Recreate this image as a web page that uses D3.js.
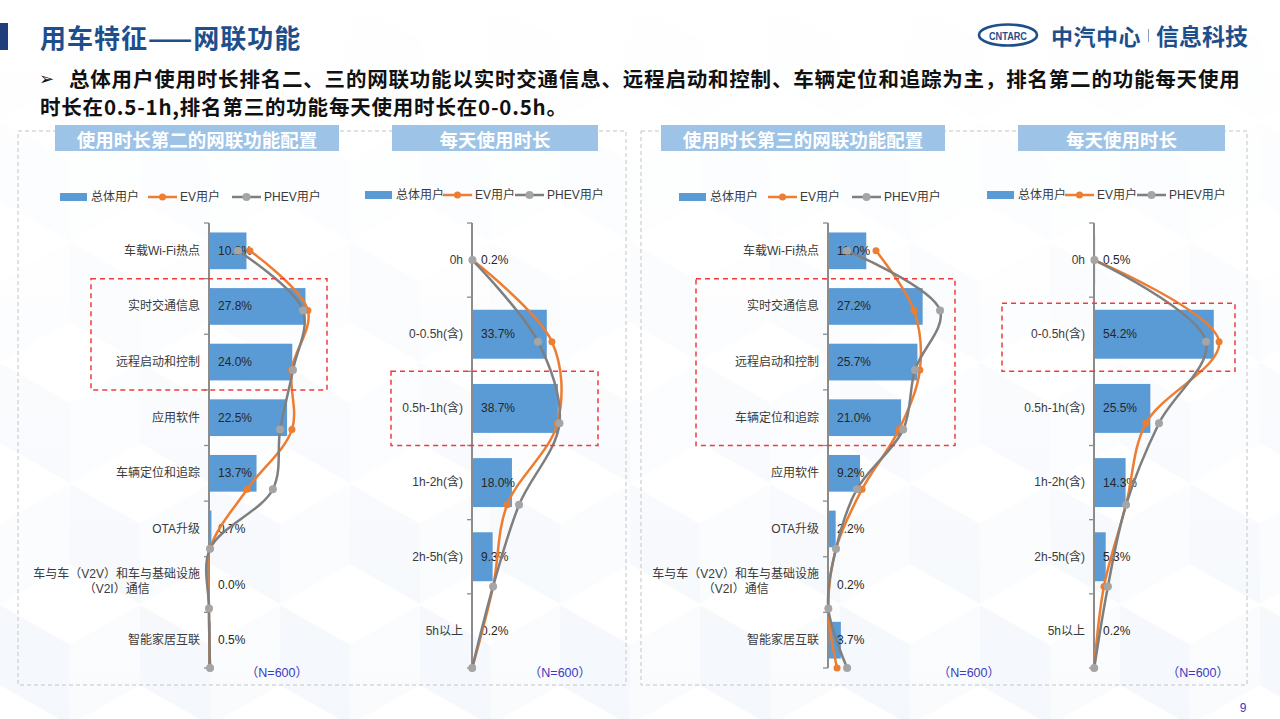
<!DOCTYPE html>
<html><head><meta charset="utf-8">
<script src="https://cdn.jsdelivr.net/npm/d3@7/dist/d3.min.js"></script>
<style>
html,body{margin:0;padding:0;background:#fff;}
svg{display:block;}
text{font-family:"Liberation Sans","Noto Sans CJK SC",sans-serif;}
</style></head><body>
<svg id="c" width="1280" height="719"></svg>
<script>
// ---------------- data ----------------
const pageTitle = "用车特征——网联功能";
const subtitleLine1 = "总体用户使用时长排名二、三的网联功能以实时交通信息、远程启动和控制、车辆定位和追踪为主，排名第二的功能每天使用";
const subtitleLine2 = "时长在0.5-1h,排名第三的功能每天使用时长在0-0.5h。";
const legendNames = ["总体用户", "EV用户", "PHEV用户"];
const sampleNote = "（N=600）";

const fn2Title = "使用时长第二的网联功能配置";
const fn2Categories = ["车载Wi-Fi热点", "实时交通信息", "远程启动和控制", "应用软件", "车辆定位和追踪", "OTA升级", "车与车（V2V）和车与基础设施（V2I）通信", "智能家居互联"];
const fn2Total = [10.8, 27.8, 24.0, 22.5, 13.7, 0.7, 0.0, 0.5];
const fn2EV    = [11.8, 28.5, 23.8, 23.9, 11.0, 0.3, 0.0, 0.3];
const fn2PHEV  = [8.4, 27.1, 24.2, 20.5, 18.4, 0.3, 0.0, 0.3];

const dur2Title = "每天使用时长";
const dur2Categories = ["0h", "0-0.5h(含)", "0.5h-1h(含)", "1h-2h(含)", "2h-5h(含)", "5h以上"];
const dur2Total = [0.2, 33.7, 38.7, 18.0, 9.3, 0.2];
const dur2EV    = [0.2, 36.0, 38.5, 15.8, 9.5, 0.1];
const dur2PHEV  = [0.2, 29.7, 39.4, 21.2, 9.5, 0.1];

const fn3Title = "使用时长第三的网联功能配置";
const fn3Categories = ["车载Wi-Fi热点", "实时交通信息", "远程启动和控制", "车辆定位和追踪", "应用软件", "OTA升级", "车与车（V2V）和车与基础设施（V2I）通信", "智能家居互联"];
const fn3Total = [11.0, 27.2, 25.7, 21.0, 9.2, 2.2, 0.2, 3.7];
const fn3EV    = [13.8, 24.7, 26.4, 20.4, 9.8, 2.3, 0.1, 2.6];
const fn3PHEV  = [5.5, 32.2, 25.0, 21.6, 8.3, 2.3, 0.1, 5.5];

const dur3Title = "每天使用时长";
const dur3Categories = ["0h", "0-0.5h(含)", "0.5h-1h(含)", "1h-2h(含)", "2h-5h(含)", "5h以上"];
const dur3Total = [0.5, 54.2, 25.5, 14.3, 5.3, 0.2];
const dur3EV    = [0.2, 56.6, 23.5, 14.5, 4.5, 0.1];
const dur3PHEV  = [0.2, 50.7, 29.4, 14.5, 6.3, 0.1];

// ---------------- style ----------------
const C_BAR = "#5b9bd5", C_EV = "#ed7d31", C_PHEV = "#7f7f7f", C_PHEV_M = "#a5a5a5";
const C_TXT = "#3a3a3a", C_NAVY = "#1f4e8c";

const svg = d3.select("#c");
const defs = svg.append("defs");

// faint isometric background
const pat = defs.append("pattern").attr("id", "cubes").attr("patternUnits", "userSpaceOnUse")
  .attr("width", 140).attr("height", 242);
function cube(g, ox, oy) {
  const s = 70, h = 40;
  g.append("path").attr("d", `M${ox},${oy} l${s},${h} l0,${2*h} l${-s},${-h} z`).attr("fill", "#f1f5fb");
  g.append("path").attr("d", `M${ox},${oy} l${-s},${h} l0,${2*h} l${s},${-h} z`).attr("fill", "#f8fafd");
}
pat.append("rect").attr("width", 140).attr("height", 242).attr("fill", "#ffffff");
[[70, 0], [0, 121], [140, 121], [70, 242], [0, -121], [140, -121]].forEach(p => cube(pat, p[0], p[1]));
const grad = defs.append("linearGradient").attr("id", "fade").attr("x1", 0).attr("x2", 0).attr("y1", 0).attr("y2", 1);
grad.append("stop").attr("offset", "0").attr("stop-color", "#fff").attr("stop-opacity", 0.97);
grad.append("stop").attr("offset", "0.5").attr("stop-color", "#fff").attr("stop-opacity", 0.65);
grad.append("stop").attr("offset", "1").attr("stop-color", "#fff").attr("stop-opacity", 0.25);
svg.append("rect").attr("width", 1280).attr("height", 719).attr("fill", "url(#cubes)");
svg.append("rect").attr("width", 1280).attr("height", 719).attr("fill", "url(#fade)");

// ---------------- header ----------------
svg.append("rect").attr("x", 0).attr("y", 23).attr("width", 8).attr("height", 27).attr("fill", "#1f3f7a");
svg.append("text").attr("x", 40).attr("y", 36).attr("dominant-baseline", "central")
  .style("font-family", "'Noto Sans CJK SC'").style("font-weight", 700).style("font-size", "26px")
  .style("letter-spacing", "1px").attr("fill", C_NAVY).text(pageTitle);

// logo
svg.append("ellipse").attr("cx", 1008).attr("cy", 35).attr("rx", 29).attr("ry", 10.5)
  .attr("fill", "#fff").attr("stroke", C_NAVY).attr("stroke-width", 2.6);
svg.append("text").attr("x", 1008).attr("y", 35.5).attr("text-anchor", "middle").attr("dominant-baseline", "central")
  .attr("textLength", 38).attr("lengthAdjust", "spacingAndGlyphs")
  .style("font-size", "10.5px").style("font-weight", 700).attr("fill", C_NAVY).text("CNTARC");
svg.append("text").attr("x", 1051).attr("y", 35).attr("dominant-baseline", "central")
  .style("font-family", "'Noto Sans CJK SC'").style("font-weight", 700).style("font-size", "22px")
  .style("letter-spacing", "0.5px").attr("fill", C_NAVY).text("中汽中心");
svg.append("line").attr("x1", 1148.5).attr("x2", 1148.5).attr("y1", 29).attr("y2", 42)
  .attr("stroke", "#8aa0c0").attr("stroke-width", 1);
svg.append("text").attr("x", 1156).attr("y", 35).attr("dominant-baseline", "central")
  .style("font-family", "'Noto Sans CJK SC'").style("font-weight", 700).style("font-size", "23px")
  .attr("fill", C_NAVY).text("信息科技");

// subtitle
svg.append("text").attr("x", 39).attr("y", 78).attr("dominant-baseline", "central")
  .style("font-family", "'DejaVu Sans'").style("font-size", "18px").style("font-weight", 700)
  .attr("fill", "#111").text("➢");
svg.append("text").attr("x", 69).attr("y", 78).attr("dominant-baseline", "central")
  .style("font-family", "'Noto Sans CJK SC'").style("font-weight", 700).style("font-size", "20.5px")
  .style("letter-spacing", "0.8px").attr("fill", "#111").text(subtitleLine1);
svg.append("text").attr("x", 40).attr("y", 106).attr("dominant-baseline", "central")
  .style("font-family", "'Noto Sans CJK SC'").style("font-weight", 700).style("font-size", "20.5px")
  .style("letter-spacing", "0.8px").attr("fill", "#111").text(subtitleLine2);

// panel dashed frames
[[18, 131, 608, 554], [641, 131, 606, 554]].forEach(r => {
  svg.append("rect").attr("x", r[0]).attr("y", r[1]).attr("width", r[2]).attr("height", r[3])
    .attr("fill", "none").attr("stroke", "#c4c4c4").attr("stroke-width", 1).attr("stroke-dasharray", "4,3");
});

// ---------------- panels ----------------
const AXIS_TOP = 223, AXIS_BOTTOM = 668;

function wrapLabel(textSel, maxW) {
  textSel.each(function () {
    const t = d3.select(this);
    const full = t.text();
    if (this.getComputedTextLength() <= maxW) return;
    const chars = Array.from(full);
    let line1 = "";
    for (let i = 0; i < chars.length; i++) {
      t.text(line1 + chars[i]);
      if (this.getComputedTextLength() > maxW) break;
      line1 += chars[i];
    }
    let cut = line1.length;
    const open = line1.lastIndexOf("（");
    if (open > line1.lastIndexOf("）")) cut = open;
    line1 = full.slice(0, cut);
    const line2 = full.slice(cut);
    t.text(line1);
    const w1 = this.getComputedTextLength();
    const x0 = +t.attr("x");
    const cx = x0 - w1 / 2;
    t.text(null).attr("text-anchor", "middle");
    t.append("tspan").attr("x", cx).attr("dy", "-0.55em").text(line1);
    t.append("tspan").attr("x", cx).attr("dy", "1.25em").text(line2);
  });
}

function drawPanel(p) {
  const g = svg.append("g");
  const y = d3.scaleBand().domain(p.categories).range([AXIS_TOP, AXIS_BOTTOM])
    .paddingInner(0.34).paddingOuter(0.17);
  const step = (AXIS_BOTTOM - AXIS_TOP) / p.categories.length;
  const x = d3.scaleLinear().domain([0, 100]).range([p.axisX, p.axisX + 100 * p.pxPer]);
  const yLine = d3.scalePoint().domain(p.categories).range([AXIS_TOP + step / 2, AXIS_BOTTOM]);

  // title box
  g.append("rect").attr("x", p.titleBox[0]).attr("y", 125).attr("width", p.titleBox[1]).attr("height", 26)
    .attr("fill", "#9dc3e6");
  g.append("text").attr("x", p.titleBox[0] + p.titleBox[1] / 2).attr("y", 138.5)
    .attr("text-anchor", "middle").attr("dominant-baseline", "central")
    .style("font-family", "'Noto Sans CJK SC'").style("font-weight", 700).style("font-size", "18.5px")
    .attr("fill", "#fff").text(p.title);

  // legend
  const lg = g.append("g").style("font-size", "12px").attr("fill", C_TXT);
  const L = p.legend, ly = p.legendY;
  lg.append("rect").attr("x", L[0]).attr("y", ly - 4).attr("width", 27).attr("height", 8).attr("fill", C_BAR);
  lg.append("text").attr("x", L[0] + 31).attr("y", ly).attr("dominant-baseline", "central").text(legendNames[0]);
  [[L[1], C_EV, C_EV, 3.5, legendNames[1]], [L[2], C_PHEV, C_PHEV_M, 4, legendNames[2]]].forEach(s => {
    lg.append("line").attr("x1", s[0]).attr("x2", s[0] + 29).attr("y1", ly).attr("y2", ly)
      .attr("stroke", s[1]).attr("stroke-width", 2.5);
    lg.append("circle").attr("cx", s[0] + 14.5).attr("cy", ly).attr("r", s[3]).attr("fill", s[2]);
    lg.append("text").attr("x", s[0] + 32).attr("y", ly).attr("dominant-baseline", "central").text(s[4]);
  });

  // bars
  g.selectAll("rect.bar").data(p.categories).join("rect").attr("class", "bar")
    .attr("x", p.axisX).attr("y", c => y(c))
    .attr("width", (c, i) => Math.max(0, x(p.total[i]) - p.axisX))
    .attr("height", y.bandwidth()).attr("fill", C_BAR);

  // axis
  g.append("line").attr("x1", p.axisX).attr("x2", p.axisX).attr("y1", AXIS_TOP).attr("y2", AXIS_BOTTOM)
    .attr("stroke", "#8c8c8c").attr("stroke-width", 2);
  d3.range(p.categories.length + 1).forEach(i => {
    g.append("line").attr("x1", p.axisX - 5).attr("x2", p.axisX)
      .attr("y1", AXIS_TOP + i * step).attr("y2", AXIS_TOP + i * step)
      .attr("stroke", "#8c8c8c").attr("stroke-width", 1.3);
  });
  const ax = g.append("g").attr("transform", `translate(${p.axisX},0)`)
    .call(d3.axisLeft(y).tickSize(0).tickPadding(9));
  ax.select(".domain").remove();
  ax.selectAll("text").style("font-size", "12px").attr("fill", C_TXT)
    .style("font-family", "'Liberation Sans','Noto Sans CJK SC',sans-serif");
  ax.selectAll("text").call(wrapLabel, 172);

  // value labels
  g.selectAll("text.val").data(p.categories).join("text").attr("class", "val")
    .attr("x", p.axisX + 9).attr("y", c => y(c) + y.bandwidth() / 2).attr("dominant-baseline", "central")
    .style("font-size", "12px").attr("fill", "#262626")
    .text((c, i) => d3.format(".1f")(p.total[i]) + "%");

  // lines
  const series = [
    { vals: p.ev, color: C_EV, marker: C_EV, r: 3.5 },
    { vals: p.phev, color: C_PHEV, marker: C_PHEV_M, r: 4 }
  ];
  const line = d3.line().x(d => x(d.v)).y(d => yLine(d.c)).curve(d3.curveCatmullRom.alpha(0.5));
  series.forEach(s => {
    const pts = p.categories.map((c, i) => ({ c, v: s.vals[i] }));
    g.append("path").attr("d", line(pts)).attr("fill", "none")
      .attr("stroke", s.color).attr("stroke-width", 2.5).attr("stroke-linejoin", "round");
  });
  series.forEach(s => {
    const pts = p.categories.map((c, i) => ({ c, v: s.vals[i] }));
    g.selectAll(null).data(pts).join("circle")
      .attr("cx", d => x(d.v)).attr("cy", d => yLine(d.c)).attr("r", s.r).attr("fill", s.marker);
  });

  // red highlight box
  g.append("rect").attr("x", p.red[0]).attr("width", p.red[1] - p.red[0])
    .attr("y", AXIS_TOP + p.red[2] * step + p.red[4]).attr("height", (p.red[3] - p.red[2] + 1) * step - p.red[4])
    .attr("fill", "none").attr("stroke", "#f23b3b").attr("stroke-width", 1.5).attr("stroke-dasharray", "5,4");

  // sample note
  g.append("text").attr("x", p.nRight).attr("y", 673).attr("text-anchor", "end").attr("dominant-baseline", "central")
    .style("font-size", "12.5px").attr("fill", "#3b3bc0").text(sampleNote);
}

drawPanel({ title: fn2Title, categories: fn2Categories, total: fn2Total, ev: fn2EV, phev: fn2PHEV,
  axisX: 209, pxPer: 3.47, titleBox: [55, 284], legend: [60, 148, 232], legendY: 197,
  red: [91, 327, 1, 2, 0], nRight: 308 });
drawPanel({ title: dur2Title, categories: dur2Categories, total: dur2Total, ev: dur2EV, phev: dur2PHEV,
  axisX: 472, pxPer: 2.22, titleBox: [392, 206], legend: [365, 443, 515], legendY: 195,
  red: [391, 598, 2, 2, 0], nRight: 591 });
drawPanel({ title: fn3Title, categories: fn3Categories, total: fn3Total, ev: fn3EV, phev: fn3PHEV,
  axisX: 828, pxPer: 3.48, titleBox: [661, 284], legend: [679, 768, 852], legendY: 197,
  red: [696, 955, 1, 3, 0], nRight: 1000 });
drawPanel({ title: dur3Title, categories: dur3Categories, total: dur3Total, ev: dur3EV, phev: dur3PHEV,
  axisX: 1094, pxPer: 2.21, titleBox: [1018, 207], legend: [987, 1065, 1137], legendY: 195,
  red: [1002, 1235, 1, 1, 6], nRight: 1229 });

// page number
svg.append("text").attr("x", 1243).attr("y", 708).attr("text-anchor", "middle").attr("dominant-baseline", "central")
  .style("font-size", "12px").attr("fill", "#3b3bc0").text("9");
</script>
</body></html>
